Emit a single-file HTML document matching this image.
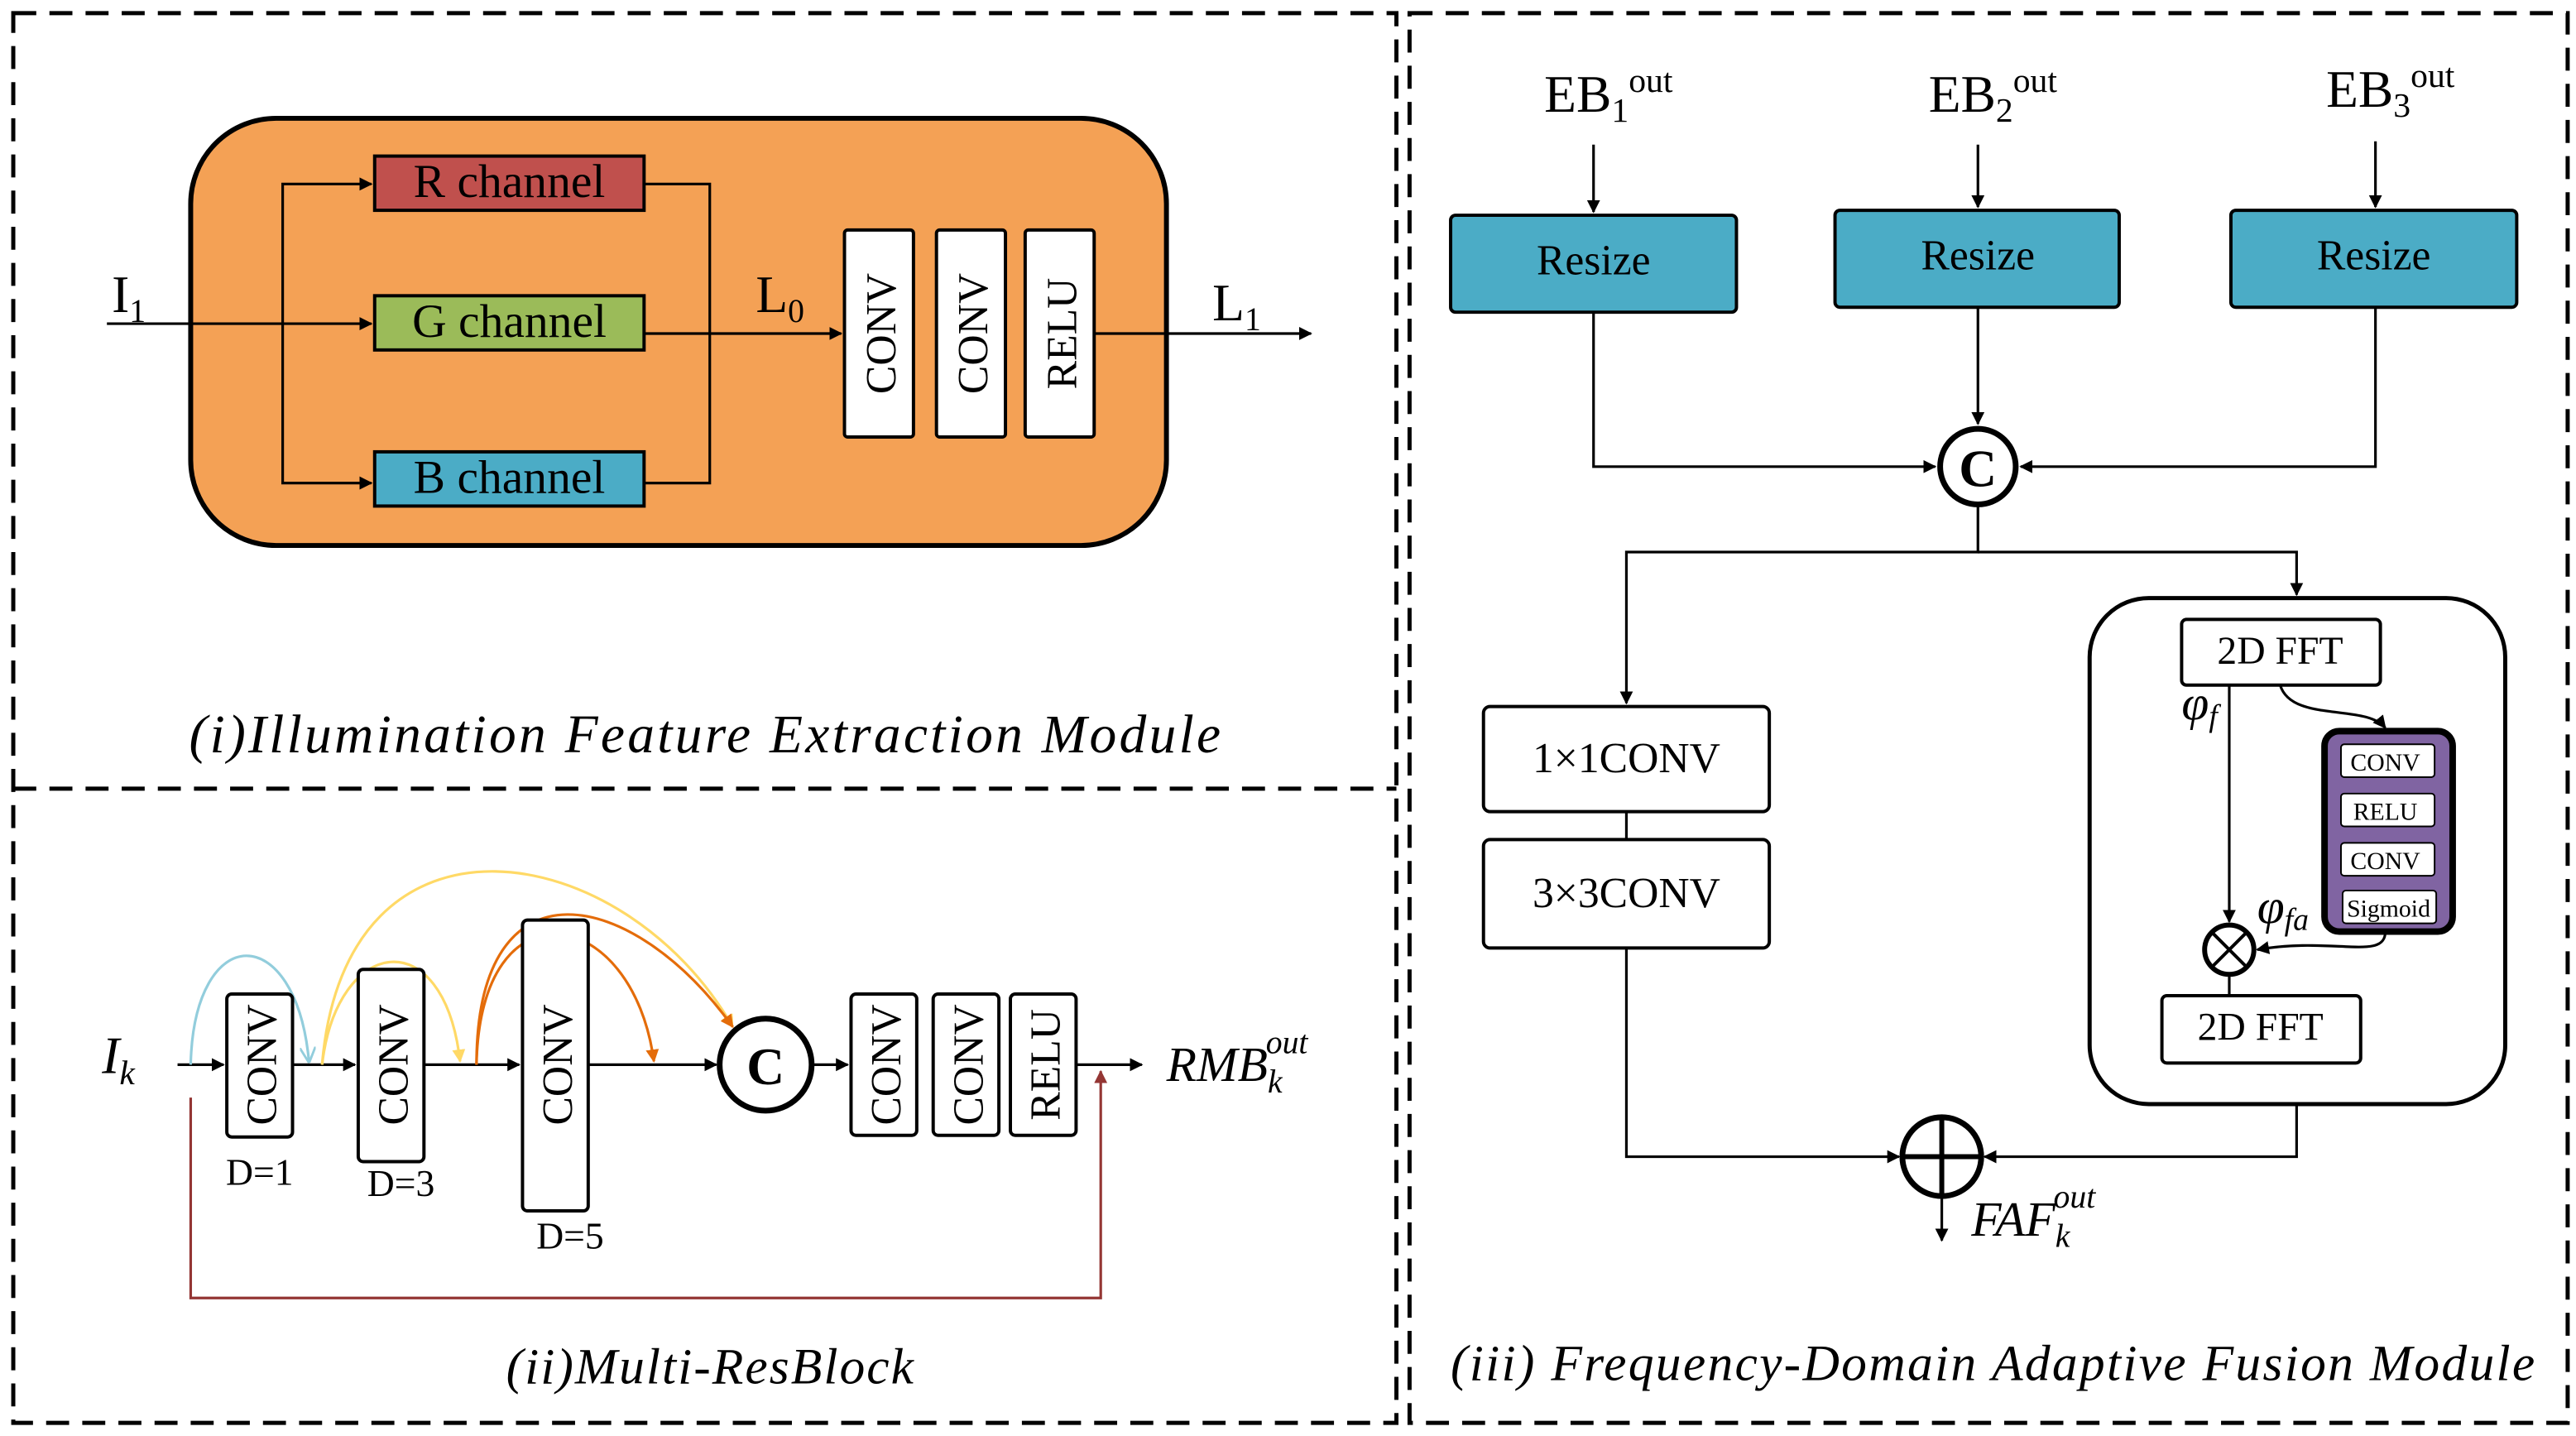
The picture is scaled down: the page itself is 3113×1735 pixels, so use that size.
<!DOCTYPE html>
<html><head><meta charset="utf-8"><style>
html,body{margin:0;padding:0;background:#fff}
svg{display:block}
text{font-family:"Liberation Serif",serif;fill:#000}
</style></head><body>
<svg width="3113" height="1735" viewBox="0 0 1568 874" xmlns="http://www.w3.org/2000/svg">
<defs>
<marker id="a" viewBox="0 0 10 10" refX="9" refY="5" markerWidth="5" markerHeight="5" orient="auto"><path d="M0,0L10,5L0,10z" fill="#000"/></marker>
<marker id="ay" viewBox="0 0 10 10" refX="9" refY="5" markerWidth="5" markerHeight="5" orient="auto"><path d="M0,0L10,5L0,10z" fill="#FFD966"/></marker>
<marker id="ao" viewBox="0 0 10 10" refX="9" refY="5" markerWidth="5" markerHeight="5" orient="auto"><path d="M0,0L10,5L0,10z" fill="#E46C0A"/></marker>
<marker id="ab" viewBox="0 0 10 10" refX="9" refY="5" markerWidth="6" markerHeight="6" orient="auto"><path d="M0,0L10,5L0,10" fill="none" stroke="#92CDDC" stroke-width="1.5"/></marker>
<marker id="ar" viewBox="0 0 10 10" refX="9" refY="5" markerWidth="5" markerHeight="5" orient="auto"><path d="M0,0L10,5L0,10z" fill="#943634"/></marker>
</defs>
<g fill="none" stroke="#000" stroke-width="2.5" stroke-dasharray="14,8">
<rect x="8" y="8" width="842" height="858"/>
<line x1="8" y1="480" x2="850" y2="480"/>
<rect x="858" y="8" width="705" height="858"/>
</g>
<!-- panel i -->
<rect x="116" y="72" width="594" height="260" rx="52" fill="#F4A155" stroke="#000" stroke-width="3"/>
<g stroke="#000" stroke-width="1.6" fill="none">
<line x1="65" y1="197" x2="226" y2="197" marker-end="url(#a)"/>
<path d="M172,197V112H226" marker-end="url(#a)"/>
<path d="M172,197V294H226" marker-end="url(#a)"/>
<path d="M392,112H432V294H392"/>
<line x1="392" y1="203" x2="512" y2="203" marker-end="url(#a)"/>
<line x1="666" y1="203" x2="798" y2="203" marker-end="url(#a)"/>
</g>
<rect x="228" y="95" width="164" height="33" fill="#C0504D" stroke="#000" stroke-width="2"/>
<rect x="228" y="180" width="164" height="33" fill="#9BBB59" stroke="#000" stroke-width="2"/>
<rect x="228" y="275" width="164" height="33" fill="#4BACC6" stroke="#000" stroke-width="2"/>
<text x="310" y="120" font-size="29" text-anchor="middle">R channel</text>
<text x="310" y="205" font-size="29" text-anchor="middle">G channel</text>
<text x="310" y="300" font-size="29" text-anchor="middle">B channel</text>
<text x="68" y="190" font-size="32">I<tspan font-size="20" dy="6">1</tspan></text>
<text x="460" y="190" font-size="32">L<tspan font-size="20" dy="6">0</tspan></text>
<text x="738" y="195" font-size="32">L<tspan font-size="20" dy="6">1</tspan></text>
<g fill="#fff" stroke="#000" stroke-width="2">
<rect x="514" y="140" width="42" height="126" rx="2"/>
<rect x="570" y="140" width="42" height="126" rx="2"/>
<rect x="624" y="140" width="42" height="126" rx="2"/>
</g>
<text transform="translate(545,203) rotate(-90)" font-size="26" text-anchor="middle">CONV</text>
<text transform="translate(601,203) rotate(-90)" font-size="26" text-anchor="middle">CONV</text>
<text transform="translate(655,203) rotate(-90)" font-size="26" text-anchor="middle">RELU</text>
<text x="115" y="458" font-size="33" font-style="italic" textLength="628" lengthAdjust="spacing">(i)Illumination Feature Extraction Module</text>
<!-- panel ii -->
<g stroke="#000" stroke-width="1.6" fill="none">
<line x1="108" y1="648" x2="136" y2="648" marker-end="url(#a)"/>
<line x1="178" y1="648" x2="216" y2="648" marker-end="url(#a)"/>
<line x1="258" y1="648" x2="316" y2="648" marker-end="url(#a)"/>
<line x1="358" y1="648" x2="436" y2="648" marker-end="url(#a)"/>
<line x1="494" y1="648" x2="516" y2="648" marker-end="url(#a)"/>
<line x1="655" y1="648" x2="695" y2="648" marker-end="url(#a)"/>
</g>
<path d="M116,668V790H670V652" fill="none" stroke="#943634" stroke-width="1.6" marker-end="url(#ar)"/>
<path d="M116,648C118,560 180,560 188,646" fill="none" stroke="#92CDDC" stroke-width="1.6" marker-end="url(#ab)"/>
<path d="M196,648C210,480 380,510 446,625" fill="none" stroke="#FFD966" stroke-width="1.6" marker-end="url(#ay)"/>
<path d="M196,648C205,570 270,560 280,646" fill="none" stroke="#FFD966" stroke-width="1.6" marker-end="url(#ay)"/>
<path d="M290,648C290,520 385,540 446,625" fill="none" stroke="#E46C0A" stroke-width="1.6" marker-end="url(#ao)"/>
<path d="M290,648C292,535 385,550 398,646" fill="none" stroke="#E46C0A" stroke-width="1.6" marker-end="url(#ao)"/>
<g fill="#fff" stroke="#000" stroke-width="2">
<rect x="138" y="605" width="40" height="87" rx="3"/>
<rect x="218" y="590" width="40" height="117" rx="3"/>
<rect x="318" y="560" width="40" height="177" rx="3"/>
<rect x="518" y="605" width="40" height="86" rx="3"/>
<rect x="568" y="605" width="40" height="86" rx="3"/>
<rect x="615" y="605" width="40" height="86" rx="3"/>
</g>
<circle cx="466" cy="648" r="28" fill="#fff" stroke="#000" stroke-width="3.5"/>
<text x="466" y="660" font-size="32" font-weight="bold" text-anchor="middle">C</text>
<g font-size="26" text-anchor="middle">
<text transform="translate(168,648) rotate(-90)">CONV</text>
<text transform="translate(248,648) rotate(-90)">CONV</text>
<text transform="translate(348,648) rotate(-90)">CONV</text>
<text transform="translate(548,648) rotate(-90)">CONV</text>
<text transform="translate(598,648) rotate(-90)">CONV</text>
<text transform="translate(645,648) rotate(-90)">RELU</text>
</g>
<text x="158" y="721" font-size="23" text-anchor="middle">D=1</text>
<text x="244" y="728" font-size="23" text-anchor="middle">D=3</text>
<text x="347" y="760" font-size="23" text-anchor="middle">D=5</text>
<text x="62" y="653" font-size="32" font-style="italic">I<tspan font-size="21" dy="7">k</tspan></text>
<text x="710" y="658" font-size="30" font-style="italic">RMB<tspan font-size="20" dy="7">k</tspan><tspan font-size="20" dx="-10" dy="-24">out</tspan></text>
<text x="308" y="842" font-size="31" font-style="italic" textLength="248" lengthAdjust="spacing">(ii)Multi-ResBlock</text>
<!-- panel iii -->
<g font-size="32">
<text x="940" y="68">EB<tspan font-size="21" dy="6">1</tspan><tspan font-size="21" dy="-18">out</tspan></text>
<text x="1174" y="68">EB<tspan font-size="21" dy="6">2</tspan><tspan font-size="21" dy="-18">out</tspan></text>
<text x="1416" y="65">EB<tspan font-size="21" dy="6">3</tspan><tspan font-size="21" dy="-18">out</tspan></text>
</g>
<g stroke="#000" stroke-width="1.6" fill="none">
<line x1="970" y1="88" x2="970" y2="129" marker-end="url(#a)"/>
<line x1="1204" y1="88" x2="1204" y2="126" marker-end="url(#a)"/>
<line x1="1446" y1="86" x2="1446" y2="126" marker-end="url(#a)"/>
<path d="M970,190V284H1178" marker-end="url(#a)"/>
<line x1="1204" y1="187" x2="1204" y2="258" marker-end="url(#a)"/>
<path d="M1446,187V284H1230" marker-end="url(#a)"/>
<path d="M1204,308V336H990V428" marker-end="url(#a)"/>
<path d="M1204,336H1398V362" marker-end="url(#a)"/>
<line x1="990" y1="494" x2="990" y2="511"/>
<path d="M990,577V704H1156" marker-end="url(#a)"/>
<path d="M1398,672V704H1208" marker-end="url(#a)"/>
<line x1="1182" y1="728" x2="1182" y2="755" marker-end="url(#a)"/>
<line x1="1357" y1="417" x2="1357" y2="561" marker-end="url(#a)"/>
<path d="M1388,417C1395,440 1440,428 1452,443" marker-end="url(#a)"/>
<path d="M1452,567C1452,585 1420,570 1374,578" marker-end="url(#a)"/>
<line x1="1357" y1="593" x2="1357" y2="606"/>
</g>
<g fill="#4BACC6" stroke="#000" stroke-width="2">
<rect x="883" y="131" width="174" height="59" rx="3"/>
<rect x="1117" y="128" width="173" height="59" rx="3"/>
<rect x="1358" y="128" width="174" height="59" rx="3"/>
</g>
<g font-size="26" text-anchor="middle">
<text x="970" y="167">Resize</text>
<text x="1204" y="164">Resize</text>
<text x="1445" y="164">Resize</text>
</g>
<circle cx="1204" cy="284" r="23" fill="#fff" stroke="#000" stroke-width="3.5"/>
<text x="1204" y="296" font-size="32" font-weight="bold" text-anchor="middle">C</text>
<rect x="1272" y="364" width="253" height="308" rx="36" fill="none" stroke="#000" stroke-width="2.5"/>
<g fill="#fff" stroke="#000" stroke-width="2">
<rect x="903" y="430" width="174" height="64" rx="4"/>
<rect x="903" y="511" width="174" height="66" rx="4"/>
<rect x="1328" y="377" width="121" height="40" rx="3"/>
<rect x="1316" y="606" width="121" height="41" rx="3"/>
</g>
<text x="990" y="470" font-size="26" text-anchor="middle">1×1CONV</text>
<text x="990" y="552" font-size="26" text-anchor="middle">3×3CONV</text>
<text x="1388" y="404" font-size="24" text-anchor="middle">2D FFT</text>
<text x="1376" y="633" font-size="24" text-anchor="middle">2D FFT</text>
<rect x="1415" y="445" width="78" height="122" rx="9" fill="#8064A2" stroke="#000" stroke-width="4"/>
<g fill="#fff" stroke="#000" stroke-width="1">
<rect x="1425" y="453" width="57" height="20" rx="2"/>
<rect x="1425" y="483" width="57" height="20" rx="2"/>
<rect x="1425" y="513" width="57" height="20" rx="2"/>
<rect x="1426" y="542" width="57" height="20" rx="2"/>
</g>
<g font-size="15" text-anchor="middle">
<text x="1452" y="469">CONV</text>
<text x="1452" y="499">RELU</text>
<text x="1452" y="529">CONV</text>
<text x="1454" y="558">Sigmoid</text>
</g>
<circle cx="1357" cy="578" r="15" fill="#fff" stroke="#000" stroke-width="3"/>
<path d="M1347,568L1367,588M1367,568L1347,588" stroke="#000" stroke-width="2"/>
<text x="1328" y="438" font-size="30" font-style="italic">φ<tspan font-size="19" dy="4">f</tspan></text>
<text x="1374" y="562" font-size="30" font-style="italic">φ<tspan font-size="19" dy="4">fa</tspan></text>
<circle cx="1182" cy="704" r="24" fill="#fff" stroke="#000" stroke-width="3.5"/>
<path d="M1182,680V728M1158,704H1206" stroke="#000" stroke-width="3"/>
<text x="1200" y="752" font-size="30" font-style="italic">FAF<tspan font-size="20" dy="7">k</tspan><tspan font-size="20" dx="-10" dy="-24">out</tspan></text>
<text x="883" y="840" font-size="31" font-style="italic" textLength="660" lengthAdjust="spacing">(iii) Frequency-Domain Adaptive Fusion Module</text>
</svg>
</body></html>
